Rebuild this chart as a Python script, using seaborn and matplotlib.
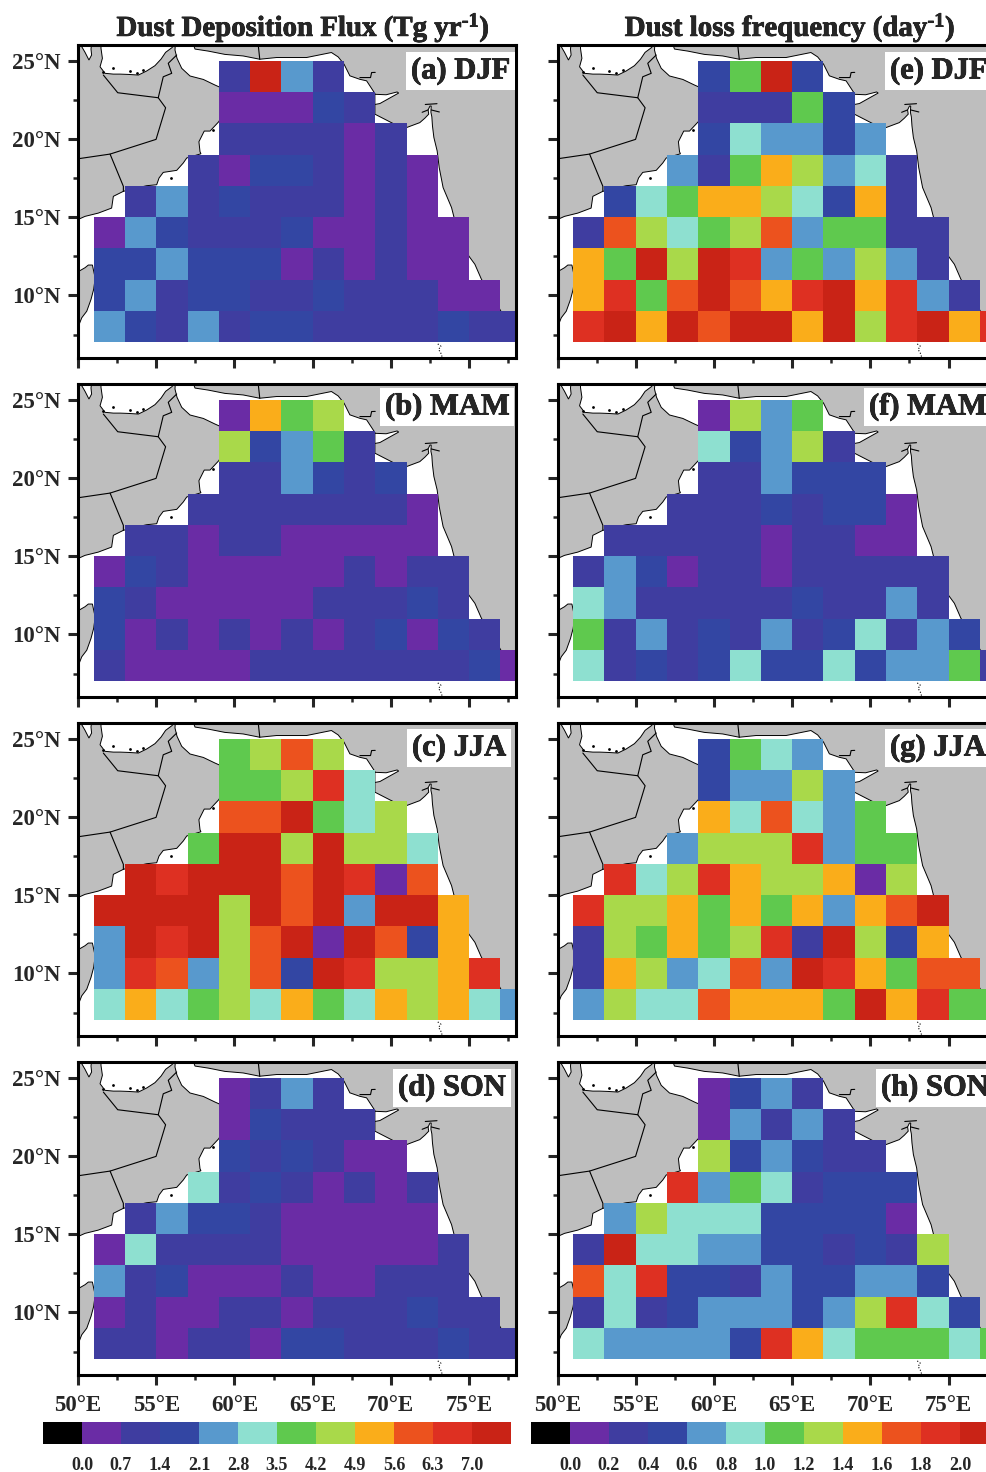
import numpy as np
import pandas as pd
import matplotlib
matplotlib.use("Agg")
import matplotlib.pyplot as plt
import matplotlib.patheffects as pe
import seaborn as sns
from matplotlib.colors import ListedColormap, BoundaryNorm
from matplotlib.cm import ScalarMappable
from matplotlib.patches import Polygon
from matplotlib.transforms import Affine2D

W, H = 986, 1472

# grid of the model boxes
lons = [51, 53, 55, 57, 59, 61, 63, 65, 67, 69, 71, 73, 75, 77]
lats = [24, 22, 20, 18, 16, 14, 12, 10, 8]
row_start = [4, 4, 4, 3, 1, 0, 0, 0, 0]   # first ocean column of each row

# Dust deposition flux (Tg/yr), values read as colour-band centres
dep_djf = [
    [1.05, 7.35, 2.45, 1.05],
    [.35, .35, .35, 1.75, 1.05],
    [1.05, 1.05, 1.05, 1.05, .35, 1.05],
    [1.05, .35, 1.75, 1.75, 1.05, .35, 1.05, .35],
    [1.05, 2.45, 1.05, 1.75, 1.05, 1.05, 1.05, .35, 1.05, .35],
    [.35, 2.45, 1.75, 1.05, 1.05, 1.05, 1.75, .35, .35, 1.05, .35, .35],
    [1.75, 1.75, 2.45, 1.75, 1.75, 1.75, .35, 1.05, .35, 1.05, .35, .35],
    [1.75, 2.45, 1.05, 1.75, 1.75, 1.05, 1.05, 1.75, 1.05, 1.05, 1.05, .35, .35],
    [2.45, 1.75, 1.05, 2.45, 1.05, 1.75, 1.75, 1.05, 1.05, 1.05, 1.05, 1.75, 1.05, 1.05],
]
dep_mam = [
    [.35, 5.25, 3.85, 4.55],
    [4.55, 1.75, 2.45, 3.85, 1.05],
    [1.05, 1.05, 2.45, 1.75, 1.05, 1.75],
    [1.05, 1.05, 1.05, 1.05, 1.05, 1.05, 1.05, .35],
    [1.05, 1.05, .35, 1.05, 1.05, .35, .35, .35, .35, .35],
    [.35, 1.75, 1.05, .35, .35, .35, .35, .35, 1.05, .35, 1.05, 1.05],
    [1.75, 1.05, .35, .35, .35, .35, .35, 1.05, 1.05, 1.05, 1.75, 1.05],
    [1.75, .35, 1.05, .35, 1.05, .35, 1.05, .35, 1.05, 1.75, .35, 1.75, 1.05],
    [1.05, .35, .35, .35, .35, 1.05, 1.05, 1.05, 1.05, 1.05, 1.05, 1.05, 1.75, .35],
]
dep_jja = [
    [3.85, 4.55, 5.95, 4.55],
    [3.85, 3.85, 4.55, 6.65, 3.15],
    [5.95, 5.95, 7.35, 3.85, 3.15, 4.55],
    [3.85, 7.35, 7.35, 4.55, 7.35, 4.55, 4.55, 3.15],
    [7.35, 6.65, 7.35, 7.35, 7.35, 5.95, 7.35, 6.65, .35, 5.95],
    [7.35, 7.35, 7.35, 7.35, 4.55, 7.35, 5.95, 7.35, 2.45, 7.35, 7.35, 5.25],
    [2.45, 7.35, 6.65, 7.35, 4.55, 5.95, 7.35, .35, 7.35, 5.95, 1.75, 5.25],
    [2.45, 6.65, 5.95, 2.45, 4.55, 5.95, 1.75, 7.35, 6.65, 4.55, 4.55, 5.25, 6.65],
    [3.15, 5.25, 3.15, 3.85, 4.55, 3.15, 5.25, 3.85, 3.15, 5.25, 4.55, 5.25, 3.15, 2.45],
]
dep_son = [
    [.35, 1.05, 2.45, 1.05],
    [.35, 1.75, 1.05, 1.05, 1.05],
    [1.75, 1.05, 1.75, 1.05, .35, .35],
    [3.15, 1.05, 1.75, 1.05, .35, 1.05, .35, 1.05],
    [1.05, 2.45, 1.75, 1.75, 1.05, .35, .35, .35, .35, .35],
    [.35, 3.15, 1.05, 1.05, 1.05, 1.05, .35, .35, .35, .35, .35, 1.05],
    [2.45, 1.05, 1.75, .35, .35, .35, 1.05, .35, .35, 1.05, 1.05, 1.05],
    [.35, 1.05, .35, .35, 1.05, 1.05, .35, 1.05, 1.05, 1.05, 1.75, 1.05, 1.05],
    [1.05, 1.05, .35, 1.05, 1.05, .35, 1.75, 1.75, 1.05, 1.05, 1.05, 1.75, 1.05, 1.05],
]

# Dust loss frequency (1/day)
loss_djf = [
    [.5, 1.1, 2.1, .5],
    [.3, .3, .3, 1.1, .5],
    [.5, .9, .7, .7, .5, .7],
    [.7, .3, 1.1, 1.5, 1.3, .7, .9, .3],
    [.5, .9, 1.1, 1.5, 1.5, 1.3, .9, .5, 1.5, .3],
    [.3, 1.7, 1.3, .9, 1.1, 1.3, 1.7, .7, 1.1, 1.1, .3, .3],
    [1.5, 1.1, 2.1, 1.3, 2.1, 1.9, .7, 1.1, .7, 1.3, .7, .3],
    [1.5, 1.9, 1.1, 1.7, 2.1, 1.7, 1.5, 1.9, 2.1, 1.5, 1.9, .7, .3],
    [1.9, 2.1, 1.5, 2.1, 1.7, 2.1, 2.1, 1.5, 2.1, 1.3, 1.9, 2.1, 1.5, 1.9],
]
loss_mam = [
    [.1, 1.3, .7, 1.1],
    [.9, .5, .7, 1.3, .3],
    [.3, .3, .7, .5, .5, .5],
    [.3, .3, .3, .5, .3, .5, .5, .1],
    [.3, .3, .3, .3, .3, .1, .3, .3, .1, .1],
    [.3, .7, .5, .1, .3, .3, .1, .3, .3, .3, .3, .3],
    [.9, .7, .3, .3, .3, .3, .3, .5, .3, .3, .7, .3],
    [1.1, .3, .7, .3, .5, .3, .7, .3, .5, .9, .3, .7, .5],
    [.9, .3, .5, .3, .5, .9, .5, .5, .9, .5, .7, .7, 1.1, .3],
]
loss_jja = [
    [.5, 1.1, .9, .7],
    [.5, .7, .7, 1.3, .7],
    [1.5, .9, 1.7, .9, .7, 1.1],
    [.7, 1.3, 1.3, 1.3, 1.9, .7, 1.1, 1.1],
    [1.9, .9, 1.3, 1.9, 1.5, 1.3, 1.3, 1.5, .1, 1.3],
    [1.9, 1.3, 1.3, 1.5, 1.1, 1.5, 1.1, 1.5, .7, 1.5, 1.7, 2.1],
    [.3, 1.3, 1.1, 1.5, 1.1, 1.3, 1.9, .3, 2.1, 1.3, .5, 1.5],
    [.3, 1.5, 1.3, .7, .9, 1.7, .7, 2.1, 1.9, 1.5, 1.1, 1.7, 1.7],
    [.7, 1.3, .9, .9, 1.7, 1.5, 1.5, 1.5, 1.1, 2.1, 1.5, 1.9, 1.1, 1.1],
]
loss_son = [
    [.1, .5, .7, .3],
    [.1, .7, .3, .7, .3],
    [1.3, .5, .7, .5, .3, .3],
    [1.9, .7, 1.1, .9, .3, .5, .5, .5],
    [.7, 1.3, .9, .9, .9, .5, .5, .5, .5, .1],
    [.3, 2.1, .9, .9, .7, .7, .5, .5, .3, .5, .3, 1.3],
    [1.7, .9, 1.9, .5, .5, .3, .7, .5, .5, .7, .7, .5],
    [.3, .9, .3, .5, .7, .7, .7, .5, .7, 1.3, 1.9, .9, .5],
    [.9, .7, .7, .7, .7, .5, 1.9, 1.5, .9, 1.1, 1.1, 1.1, .9, 1.1],
]

dep_levels = [-0.7, 0.0, 0.7, 1.4, 2.1, 2.8, 3.5, 4.2, 4.9, 5.6, 6.3, 7.0, 7.7]
loss_levels = [-0.2, 0.0, 0.2, 0.4, 0.6, 0.8, 1.0, 1.2, 1.4, 1.6, 1.8, 2.0, 2.2]
colours = ["#000000", "#6A2CA5", "#3F3DA0", "#3346A3", "#5899CD", "#8EE0D0",
           "#5FC94E", "#A9D94A", "#FAAD1A", "#EC521E", "#DE3022", "#C92316"]

# coast outlines, lon/lat
arabia = [(50.1, 26.5), (50.24, 25.89), (50.45, 25.53), (50.7, 25.04), (50.87, 25.36), (50.83, 25.74),
          (50.92, 26.5), (51.47, 26.5), (51.47, 25.78), (51.56, 25.15), (51.41, 24.61), (51.73, 24.19),
          (52.26, 24.14), (52.69, 24.14), (53.22, 24.12), (53.86, 24.08), (54.39, 24.34), (54.92, 24.68),
          (55.31, 25.1), (55.6, 25.53), (56.03, 25.85), (56.1, 26.5), (56.25, 26.5), (56.2, 25.68),
          (56.33, 25.15), (56.63, 24.51), (57.16, 24.02), (58.01, 23.8), (58.76, 23.44), (59.3, 23.2),
          (59.8, 22.5), (59.0, 21.1), (58.44, 20.5), (58.07, 20.5), (57.73, 19.82), (57.8, 19.18),
          (57.86, 19.05), (56.95, 18.78), (56.73, 18.46), (56.31, 17.99), (55.45, 17.86), (55.18, 17.5),
          (55.03, 17.07), (54.39, 17.01), (52.9, 16.65), (52.26, 16.33), (52.15, 15.58), (51.3, 15.26),
          (50.45, 15.05), (50.07, 14.88), (49.0, 14.6), (49.0, 26.5)]
india = [(57.2, 26.5), (57.48, 25.74), (58.33, 25.61), (59.39, 25.4), (60.56, 25.3), (61.62, 25.09),
         (62.69, 25.2), (64.61, 25.2), (66.2, 25.52), (66.63, 25.24), (67.01, 24.77), (67.38, 24.03),
         (68.01, 23.81), (68.45, 23.71), (68.98, 22.9), (68.98, 21.58), (70.15, 20.98), (71.02, 20.73),
         (71.85, 21.04), (72.17, 21.32), (72.42, 21.58), (72.38, 21.85), (72.5, 22.1), (72.58, 22.1),
         (72.56, 21.7), (72.62, 21.41), (72.66, 20.83), (72.75, 20.09), (72.96, 19.23),
         (73.09, 18.17), (73.34, 16.89), (73.88, 15.61), (74.03, 15.02), (74.98, 12.52), (75.37, 11.99),
         (75.79, 11.03), (76.54, 9.86), (77.39, 8.37), (78.03, 7.73), (79.0, 7.5), (79.0, 26.5)]
somalia = [(49.0, 11.4), (50.07, 11.55), (50.45, 11.77), (50.66, 11.94), (50.92, 11.94), (51.1, 11.1),
           (51.0, 10.38), (50.83, 9.74), (50.56, 8.99), (50.24, 8.57), (50.07, 8.14), (49.0, 7.6)]
kutch = [(68.98, 22.85), (69.7, 22.82), (70.4, 23.0), (70.5, 22.93), (70.05, 22.68), (69.3, 22.26), (68.98, 22.2)]
borders = [
    [(51.62, 24.08), (52.54, 22.95), (55.13, 22.63), (55.6, 21.99), (54.99, 19.97), (52.05, 19.03), (50.0, 18.73)],
    [(52.05, 19.03), (52.9, 16.97), (52.9, 16.65)],
    [(55.13, 22.63), (55.45, 23.97), (55.99, 24.19), (55.77, 24.83), (56.31, 25.36)],
    [(61.5, 26.2), (61.62, 25.09)],
    [(68.02, 23.92), (68.7, 23.92), (68.77, 24.24), (69.0, 24.25)],
    [(72.2, 22.2), (72.95, 22.25)],
    [(72.0, 21.7), (72.38, 21.85)],
    [(72.58, 21.85), (73.1, 21.72)],
]
specks = [(51.62, 24.25), (52.26, 24.5), (53.32, 24.34), (53.75, 24.18), (54.18, 24.38), (55.94, 17.5), (58.65, 20.55)]
maldives = [(73.0, 6.9), (73.2, 6.75), (73.05, 6.55), (73.2, 6.3), (73.3, 6.0)]


def make_table(rows):
    full = []
    for start, row in zip(row_start, rows):
        full.append([np.nan] * start + row + [np.nan] * (len(lons) - start - len(row)))
    return pd.DataFrame(full, index=lats, columns=lons)


def add_axes_px(left, top, width, height):
    return fig.add_axes([left / W, 1 - (top + height) / H, width / W, height / H])


def draw_panel(ax, rows, levels, show_y, show_x):
    cmap = ListedColormap(colours)
    norm = BoundaryNorm(levels, cmap.N)
    sns.heatmap(make_table(rows), ax=ax, cmap=cmap, norm=norm, cbar=False,
                xticklabels=False, yticklabels=False, linewidths=0)
    # heatmap works in cell numbers, the land is in lon/lat
    geo = Affine2D().scale(0.5, -0.5).translate(-25.5, 12.5) + ax.transData
    for shape in [arabia, india, somalia]:
        ax.add_patch(Polygon(shape, closed=True, facecolor="#BEBEBE", edgecolor="black",
                             linewidth=0.7, transform=geo, zorder=0.5))
    ax.add_patch(Polygon(kutch, closed=True, facecolor="white", edgecolor="black",
                         linewidth=0.7, transform=geo, zorder=0.6))
    for line in borders:
        xs, ys = zip(*line)
        ax.plot(xs, ys, color="black", linewidth=0.8, transform=geo, zorder=0.7)
    xs, ys = zip(*specks)
    ax.plot(xs, ys, ls="none", marker="o", ms=2, mew=0, color="black", transform=geo, zorder=0.7)
    xs, ys = zip(*maldives)
    ax.plot(xs, ys, ls=":", color="black", linewidth=0.8, transform=geo, zorder=0.7)

    ax.set_xlim((50 - 51) / 2, (78 - 51) / 2)
    ax.set_ylim((25 - 6) / 2, (25 - 26) / 2)
    ax.set_xticks([(v - 51) / 2 for v in [50, 55, 60, 65, 70, 75]])
    ax.set_xticks([(v - 51) / 2 for v in [52.5, 57.5, 62.5, 67.5, 72.5, 77.5]], minor=True)
    ax.set_yticks([(25 - v) / 2 for v in [25, 20, 15, 10]])
    ax.set_yticks([(25 - v) / 2 for v in [22.5, 17.5, 12.5, 7.5]], minor=True)
    ax.set_xticklabels(["50°E", "55°E", "60°E", "65°E", "70°E", "75°E"] if show_x else [])
    ax.set_yticklabels(["25°N", "20°N", "15°N", "10°N"] if show_y else [])
    ax.set_xlabel("")
    ax.set_ylabel("")
    ax.tick_params(which="major", length=7.2, width=2.2, pad=5, labelsize=16.5, bottom=True, left=True)
    ax.tick_params(which="minor", length=3.6, width=1.8, bottom=True, left=True)
    ax.tick_params(axis="x", which="major", pad=7, labelrotation=0)
    ax.tick_params(axis="y", which="major", labelrotation=0)
    for side in ax.spines.values():
        side.set_visible(True)
        side.set_linewidth(2.2)
        side.set_color("black")
        side.set_zorder(5)


def draw_colorbar(left, levels, labels):
    cax = add_axes_px(left, 1421.5, 12 * 39, 22.5)
    cmap = ListedColormap(colours)
    norm = BoundaryNorm(levels, cmap.N)
    cb = fig.colorbar(ScalarMappable(norm=norm, cmap=cmap), cax=cax, orientation="horizontal",
                      spacing="uniform", drawedges=False)
    cb.outline.set_visible(False)
    cb.set_ticks(levels[1:12])
    cb.set_ticklabels(labels)
    cb.ax.minorticks_off()
    cb.ax.tick_params(length=0, pad=9, labelsize=13)


sns.set_style("white")
plt.rcParams["font.family"] = ["Liberation Serif", "DejaVu Serif"]
plt.rcParams["font.weight"] = "bold"
plt.rcParams["mathtext.fontset"] = "custom"
plt.rcParams["mathtext.rm"] = "Liberation Serif:bold"
plt.rcParams["mathtext.default"] = "rm"

fig = plt.figure(figsize=(W / 100, H / 100), dpi=100, facecolor="white")
heavy = [pe.withStroke(linewidth=0.5, foreground="black")]

tops = [45, 384, 723, 1062]
dep_panels = [dep_djf, dep_mam, dep_jja, dep_son]
loss_panels = [loss_djf, loss_mam, loss_jja, loss_son]
dep_tags = [("(a) DJF", 411, 71), ("(b) MAM", 385, 407), ("(c) JJA", 412, 748), ("(d) SON", 398, 1088)]
loss_tags = [("(e) DJF", 890, 71), ("(f) MAM", 869, 407), ("(g) JJA", 890, 748), ("(h) SON", 881, 1088)]

for i in range(4):
    for left, panels, tags, first in [(78, dep_panels, dep_tags, True), (557.5, loss_panels, loss_tags, False)]:
        ax = add_axes_px(left, tops[i], 438, 313)
        draw_panel(ax, panels[i], dep_levels if first else loss_levels, first, True if i == 3 else False)
        tag, tx, ty = tags[i]
        ax.text(tx / W, 1 - ty / H, tag, transform=fig.transFigure, fontsize=22, ha="left", va="center",
                zorder=6, path_effects=heavy, bbox=dict(facecolor="white", edgecolor="none", pad=3.5))

fig.text(303 / W, 1 - 28 / H, r"Dust Deposition Flux (Tg yr$^{\text{-}1}$)", fontsize=20.8,
         ha="center", va="center", path_effects=heavy)
fig.text(790 / W, 1 - 28 / H, r"Dust loss frequency (day$^{\text{-}1}$)", fontsize=20.8,
         ha="center", va="center", path_effects=heavy)

draw_colorbar(43, dep_levels, ["0.0", "0.7", "1.4", "2.1", "2.8", "3.5", "4.2", "4.9", "5.6", "6.3", "7.0"])
draw_colorbar(531, loss_levels, ["0.0", "0.2", "0.4", "0.6", "0.8", "1.0", "1.2", "1.4", "1.6", "1.8", "2.0"])

fig.savefig("out.png", dpi=100)
